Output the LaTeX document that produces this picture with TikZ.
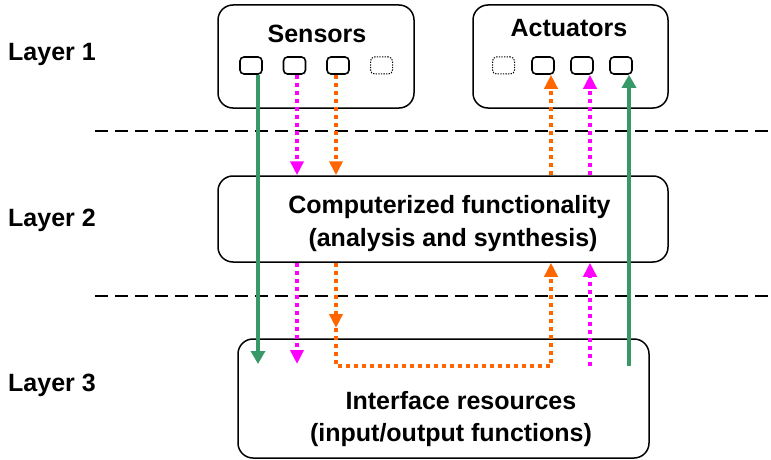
\documentclass[tikz,border=0pt]{standalone}
\usepackage{fontspec}
\setmainfont{Liberation Sans}
\usetikzlibrary{arrows.meta}
\definecolor{flowgreen}{RGB}{56,153,104}
\definecolor{floworange}{RGB}{255,102,0}
\definecolor{flowmagenta}{RGB}{255,0,255}
\begin{document}
\begin{tikzpicture}[x=1pt,y=-1pt,
  layerbox/.style={draw, line width=1.5pt, rounded corners=15pt, inner sep=0pt},
  port/.style={draw, line width=1.6pt, rounded corners=4pt, minimum width=22pt, minimum height=17pt, inner sep=0pt},
  spareport/.style={port, line width=1pt, dash pattern=on 1.3pt off 1.3pt},
  txt/.style={font=\fontsize{25}{30}\selectfont\bfseries, inner sep=0pt, anchor=base},
  layerlbl/.style={txt, anchor=base west},
  separator/.style={line width=1.5pt, dash pattern=on 13pt off 7pt},
  solidflow/.style={draw=flowgreen, line width=4pt, -{Triangle[length=13pt,width=14pt]}},
  dotflow/.style={line width=4pt, dash pattern=on 4pt off 4pt, -{Triangle[length=14pt,width=13pt]}}
]
\useasboundingbox (0,0) rectangle (771,460);

% layer separators
\coordinate (sepAL) at (95,131);  \coordinate (sepAR) at (771,131);
\coordinate (sepBL) at (95,296);  \coordinate (sepBR) at (771,296);
\draw[separator] (sepAL) -- (sepAR);
\draw[separator] (sepBL) -- (sepBR);

% layer labels
\node[layerlbl] (lay1) at (8,60) {Layer 1};
\node[layerlbl] (lay2) at (8,226) {Layer 2};
\node[layerlbl] (lay3) at (8,391) {Layer 3};

% layer 1: sensors and actuators
\node[layerbox, minimum width=196pt, minimum height=103pt] (sens) at (316,56.5) {};
\node[layerbox, minimum width=195pt, minimum height=103pt] (act) at (570.5,56.5) {};
\node[txt] (senst) at (317,43) {Sensors};
\node[txt] (actt) at (569,37) {Actuators};

\node[port] (s1) at (251,65.5) {};
\node[port] (s2) at (294.5,65.5) {};
\node[port] (s3) at (338,65.5) {};
\node[spareport] (s4) at (381.5,65.5) {};
\node[spareport] (a0) at (503.5,65.5) {};
\node[port] (a1) at (543,65.5) {};
\node[port] (a2) at (582,65.5) {};
\node[port] (a3) at (621,65.5) {};

% layer 2
\node[layerbox, minimum width=450pt, minimum height=86pt] (comp) at (443,219) {};
\node[txt] (compA) at (449.5,213) {Computerized functionality};
\node[txt] (compB) at (453,246) {(analysis and synthesis)};

% layer 3
\node[layerbox, minimum width=411pt, minimum height=119pt] (intf) at (443.5,398.5) {};
\node[txt] (intfA) at (461,409) {Interface resources};
\node[txt] (intfB) at (451,441) {(input/output functions)};

% signal lanes
\coordinate (gDown) at (258,0);
\coordinate (mDown) at (297,0);
\coordinate (oDown) at (336,0);
\coordinate (oUp) at (551,0);
\coordinate (mUp) at (590,0);
\coordinate (gUp) at (629,0);
\coordinate (tipLow) at (0,364);
\coordinate (baseLow) at (0,366);
\coordinate (oTurn) at (0,328);

% direct path: sensor to interface, interface to actuator
\draw[solidflow] (s1.south -| gDown) -- (gDown |- tipLow);
\draw[solidflow] (gUp |- baseLow) -- (a3.south -| gUp);

% sensors to computer
\draw[dotflow, flowmagenta] (s2.south -| mDown) -- (comp.north -| mDown);
\draw[dotflow, floworange] (s3.south -| oDown) -- (comp.north -| oDown);

% computer to actuators
\draw[dotflow, floworange] (comp.north -| oUp) -- (a1.south -| oUp);
\draw[dotflow, flowmagenta] (comp.north -| mUp) -- (a2.south -| mUp);

% computer to interface and back
\draw[dotflow, flowmagenta] (comp.south -| mDown) -- (mDown |- tipLow);
\draw[dotflow, flowmagenta] (mUp |- baseLow) -- (comp.south -| mUp);
\draw[dotflow, floworange] (comp.south -| oDown) -- (oDown |- oTurn);
\draw[dotflow, floworange] (oDown |- oTurn) -- (oDown |- baseLow) -- (oUp |- baseLow) -- (comp.south -| oUp);
\end{tikzpicture}
\end{document}
